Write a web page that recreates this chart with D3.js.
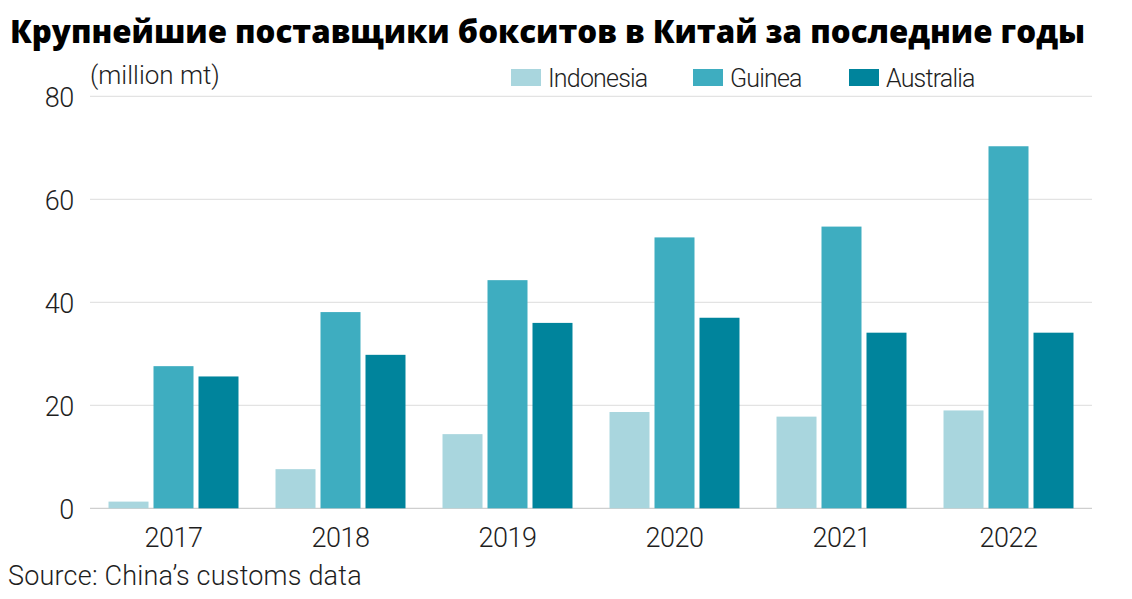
<!DOCTYPE html>
<html><head><meta charset="utf-8">
<script src="https://cdn.jsdelivr.net/npm/d3@7"></script>
<style>body{margin:0;background:#fff}svg{display:block}</style>
</head><body>
<svg id="c" width="1132" height="599"></svg>
<script>
const years = ["2017","2018","2019","2020","2021","2022"];
const seriesNames = ["Indonesia","Guinea","Australia"];
const indonesia = [1.3, 7.6, 14.4, 18.7, 17.8, 19.0];
const guinea = [27.6, 38.1, 44.3, 52.6, 54.7, 70.3];
const australia = [25.6, 29.8, 36.0, 37.0, 34.1, 34.1];
const yTicks = [0, 20, 40, 60, 80];
const colors = ["#a9d6de", "#3eadc0", "#00849c"];
const seriesValues = [indonesia, guinea, australia];

const svg = d3.select("#c");
const x0 = d3.scaleBand().domain(years).range([90, 1092]).paddingInner(0.2216).paddingOuter(0.1108);
const x1 = d3.scaleBand().domain(seriesNames).range([0, x0.bandwidth()]).paddingInner(0.111).paddingOuter(0);
const y = d3.scaleLinear().domain([0, 80]).range([508.3, 96.3]);
const color = d3.scaleOrdinal().domain(seriesNames).range(colors);

const font = "Roboto, sans-serif";
const txt = "#1e1e1e";

// grid
svg.append("g").selectAll("line").data(yTicks).join("line")
  .attr("x1", 90).attr("x2", 1092)
  .attr("y1", d => y(d)).attr("y2", d => y(d))
  .attr("stroke", d => d === 0 ? "#cfcfcf" : "#e3e3e3").attr("stroke-width", 1.3);

// y axis labels
const yAxis = svg.append("g").attr("transform", "translate(74,0)")
  .call(d3.axisLeft(y).tickValues(yTicks).tickSize(0).tickPadding(0));
yAxis.select(".domain").remove();
yAxis.selectAll("text").attr("font-family", font).attr("font-weight", 300).attr("font-size", 27)
  .attr("fill", txt).attr("dy", "0.37em").attr("letter-spacing", -0.3);

// bars
const rows = years.map((yr, i) => ({year: yr, vals: seriesNames.map((s, j) => ({s, v: seriesValues[j][i]}))}));
svg.append("g").selectAll("g").data(rows).join("g")
  .attr("transform", d => `translate(${x0(d.year)},0)`)
  .selectAll("rect").data(d => d.vals).join("rect")
  .attr("x", d => x1(d.s)).attr("width", x1.bandwidth())
  .attr("y", d => y(d.v)).attr("height", d => y(0) - y(d.v))
  .attr("fill", d => color(d.s));

// x axis
const xAxis = svg.append("g").attr("transform", `translate(0,${y(0)})`)
  .call(d3.axisBottom(x0).tickSize(0).tickPadding(0));
xAxis.select(".domain").remove();
xAxis.selectAll("text").attr("font-family", font).attr("font-weight", 300).attr("font-size", 27)
  .attr("fill", txt).attr("dy", "1.45em").attr("letter-spacing", -0.5);

// title
svg.append("text").attr("x", 10).attr("y", 43)
  .attr("font-family", "'Open Sans', sans-serif").attr("font-weight", 800).attr("font-size", 31)
  .attr("textLength", 1075).attr("lengthAdjust", "spacingAndGlyphs")
  .attr("fill", "#000").text("Крупнейшие поставщики бокситов в Китай за последние годы");

svg.append("text").attr("x", 90).attr("y", 84)
  .attr("font-family", font).attr("font-weight", 300).attr("font-size", 26).attr("fill", txt).text("(million mt)");

// legend
const legendX = [511, 693, 849];
const lg = svg.append("g").selectAll("g").data(seriesNames).join("g")
  .attr("transform", (d, i) => `translate(${legendX[i]},69)`);
lg.append("rect").attr("width", 30).attr("height", 17).attr("fill", d => color(d));
lg.append("text").attr("x", 37).attr("y", 17.5).attr("font-family", font).attr("font-weight", 300)
  .attr("font-size", 25).attr("letter-spacing", -0.8)
  .attr("fill", txt).text(d => d);

svg.append("text").attr("x", 8).attr("y", 585)
  .attr("font-family", font).attr("font-weight", 300).attr("font-size", 27).attr("letter-spacing", 0.2)
  .attr("fill", txt).text("Source: China’s customs data");
</script>
</body></html>
